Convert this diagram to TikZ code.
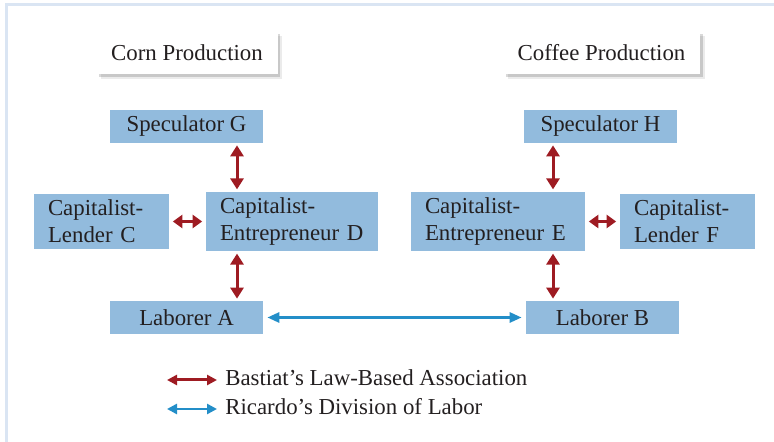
\documentclass[tikz,border=0pt]{standalone}
\usepackage{fontspec}
\setmainfont{Liberation Serif}
\usepackage{xcolor}
\definecolor{boxblue}{RGB}{146,187,221}
\definecolor{bastiatred}{RGB}{158,27,34}
\definecolor{ricardoblue}{RGB}{35,142,200}
\definecolor{frameblue}{RGB}{218,229,243}
\definecolor{inkgrey}{RGB}{35,31,32}
\usepackage{tikz}
\usetikzlibrary{arrows.meta,shadows}

\begin{document}
\begin{tikzpicture}[
    font=\fontsize{13}{15.4}\selectfont, text=inkgrey,
    titlebox/.style={fill=white, minimum height=0.86cm,
        drop shadow={shadow xshift=0.09cm, shadow yshift=-0.09cm, opacity=0.08, fill=black},
        drop shadow={shadow xshift=0.05cm, shadow yshift=-0.05cm, opacity=0.15, fill=black}},
    labbox/.style={fill=boxblue, minimum height=0.66cm, minimum width=3.06cm},
    capbox/.style={fill=boxblue, minimum height=1.1cm, align=left,
        inner xsep=0.28cm, text width=#1},
    bastiat/.style={draw=bastiatred, line width=0.06cm,
        {Triangle[width=0.26cm,length=0.22cm]}-{Triangle[width=0.26cm,length=0.22cm]},
        shorten <=0.04cm, shorten >=0.04cm},
    bastiatsmall/.style={draw=bastiatred, line width=0.06cm,
        {Triangle[width=0.26cm,length=0.19cm]}-{Triangle[width=0.26cm,length=0.19cm]},
        shorten <=0.07cm, shorten >=0.07cm},
    ricardo/.style={draw=ricardoblue, line width=0.055cm,
        {Triangle[width=0.2cm,length=0.24cm]}-{Triangle[width=0.2cm,length=0.24cm]},
        shorten <=0.08cm, shorten >=0.08cm}]
    \useasboundingbox (0,0) rectangle (15.48,8.84);
    % frame
    \draw[frameblue, line width=0.06cm] (0.13,0) |- (15.48,8.75);
    % titles
    \node[titlebox, minimum width=3.62cm] (cornT) at (3.74,7.78) {Corn Production};
    \node[titlebox, minimum width=3.94cm] (coffeeT) at (12.03,7.78) {Coffee Production};
    % corn side
    \node[labbox] (specG) at (3.73,6.31) {Speculator G};
    \node[capbox=2.14cm] (lendC) at (2.03,4.41) {Capitalist-\\Lender C};
    \node[capbox=2.88cm] (entD) at (5.84,4.41) {Capitalist-\\Entrepreneur D};
    \node[labbox] (labA) at (3.73,2.49) {Laborer A};
    % coffee side
    \node[labbox] (specH) at (12.01,6.31) {Speculator H};
    \node[capbox=2.92cm] (entE) at (9.96,4.41) {Capitalist-\\Entrepreneur E};
    \node[capbox=2.14cm] (lendF) at (13.75,4.41) {Capitalist-\\Lender F};
    \node[labbox] (labB) at (12.05,2.49) {Laborer B};
    % connectors
    \coordinate (colD) at (4.74,0);
    \coordinate (colE) at (11.06,0);
    \draw[bastiat] (specG.south -| colD) -- (entD.north -| colD);
    \draw[bastiat] (entD.south -| colD) -- (labA.north -| colD);
    \draw[bastiat] (specH.south -| colE) -- (entE.north -| colE);
    \draw[bastiat] (entE.south -| colE) -- (labB.north -| colE);
    \draw[bastiatsmall] (lendC.east) -- (entD.west);
    \draw[bastiatsmall] (entE.east) -- (lendF.west);
    \draw[ricardo] (labA.east) -- (labB.west);
    % legend
    \node[anchor=base west, inner sep=0pt] (legB) at (4.50,1.12) {Bastiat's Law-Based Association};
    \node[anchor=base west, inner sep=0pt] (legR) at (4.50,0.55) {Ricardo's Division of Labor};
    \coordinate (legBs) at (3.34,1.24);
    \coordinate (legRs) at (3.34,0.66);
    \draw[bastiat, {Triangle[width=0.2cm,length=0.2cm]}-{Triangle[width=0.2cm,length=0.2cm]}, shorten <=0pt, shorten >=0.16cm]
        (legBs) -- (legBs -| legB.west);
    \draw[ricardo, {Triangle[width=0.2cm,length=0.2cm]}-{Triangle[width=0.2cm,length=0.2cm]}, shorten <=0pt, shorten >=0.16cm]
        (legRs) -- (legRs -| legR.west);
\end{tikzpicture}
\end{document}
